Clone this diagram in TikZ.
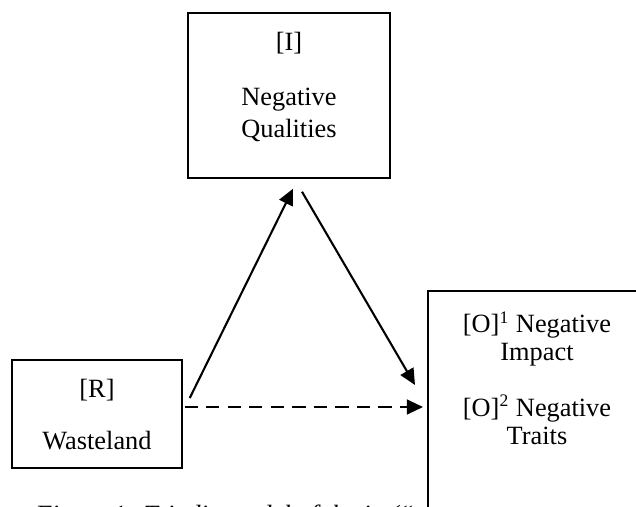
\documentclass[tikz,border=0pt]{standalone}
\usepackage{fontspec}
\setmainfont{Liberation Serif}
\usetikzlibrary{calc,arrows.meta}

\begin{document}
\begin{tikzpicture}[x=0.016cm, y=-0.016cm,
    box/.style={rectangle, draw, line width=0.7pt, inner sep=0pt},
    txt/.style={align=center, inner sep=0pt,
                font=\fontsize{12}{14.5}\selectfont},
    arr/.style={-{Triangle[length=7.3pt, width=6.7pt]}, line width=0.95pt},
    darr/.style={arr, dash pattern=on 6pt off 3.8pt}]

    \useasboundingbox (0,0) rectangle (636,506);
    \clip (0,0) rectangle (636,506);

    % Casete
    \node[box, minimum width=3.232cm, minimum height=2.64cm] (qual) at (289,95.5) {};
    \node[box, minimum width=2.72cm, minimum height=1.728cm] (waste) at (97,414) {};
    \node[box, anchor=north west, minimum width=4cm, minimum height=4cm] (outc) at (427,290) {};

    % Texte
    \node[txt] (qualtxt) at (289,87) {[I]\\[10.5pt]Negative\\Qualities};
    \node[txt] (wastetxt) at (97,415) {[R]\\[9.2pt]Wasteland};
    \node[txt, font=\fontsize{12}{12.8}\selectfont] (outctxt) at (537,378)
        {[O]\textsuperscript{1} Negative\\Impact\\[12.3pt]
         [O]\textsuperscript{2} Negative\\Traits};
    \node[txt, anchor=base west, font=\fontsize{12}{14.5}\selectfont\itshape] (caption)
        at (35,523) {Figure 1: Triadic model of the in (``};

    % Sageti
    \draw[arr] ($(waste.east)+(7,-16)$) -- ($(qual.south)+(4,10)$);
    \draw[arr] ($(qual.south)+(13,13)$) -- ($(outc.north west)+(-12,95)$);
    \draw[darr] ($(waste.east)+(2,-7)$) -- ($(outc.north west)+(-4,117)$);

\end{tikzpicture}
\end{document}
